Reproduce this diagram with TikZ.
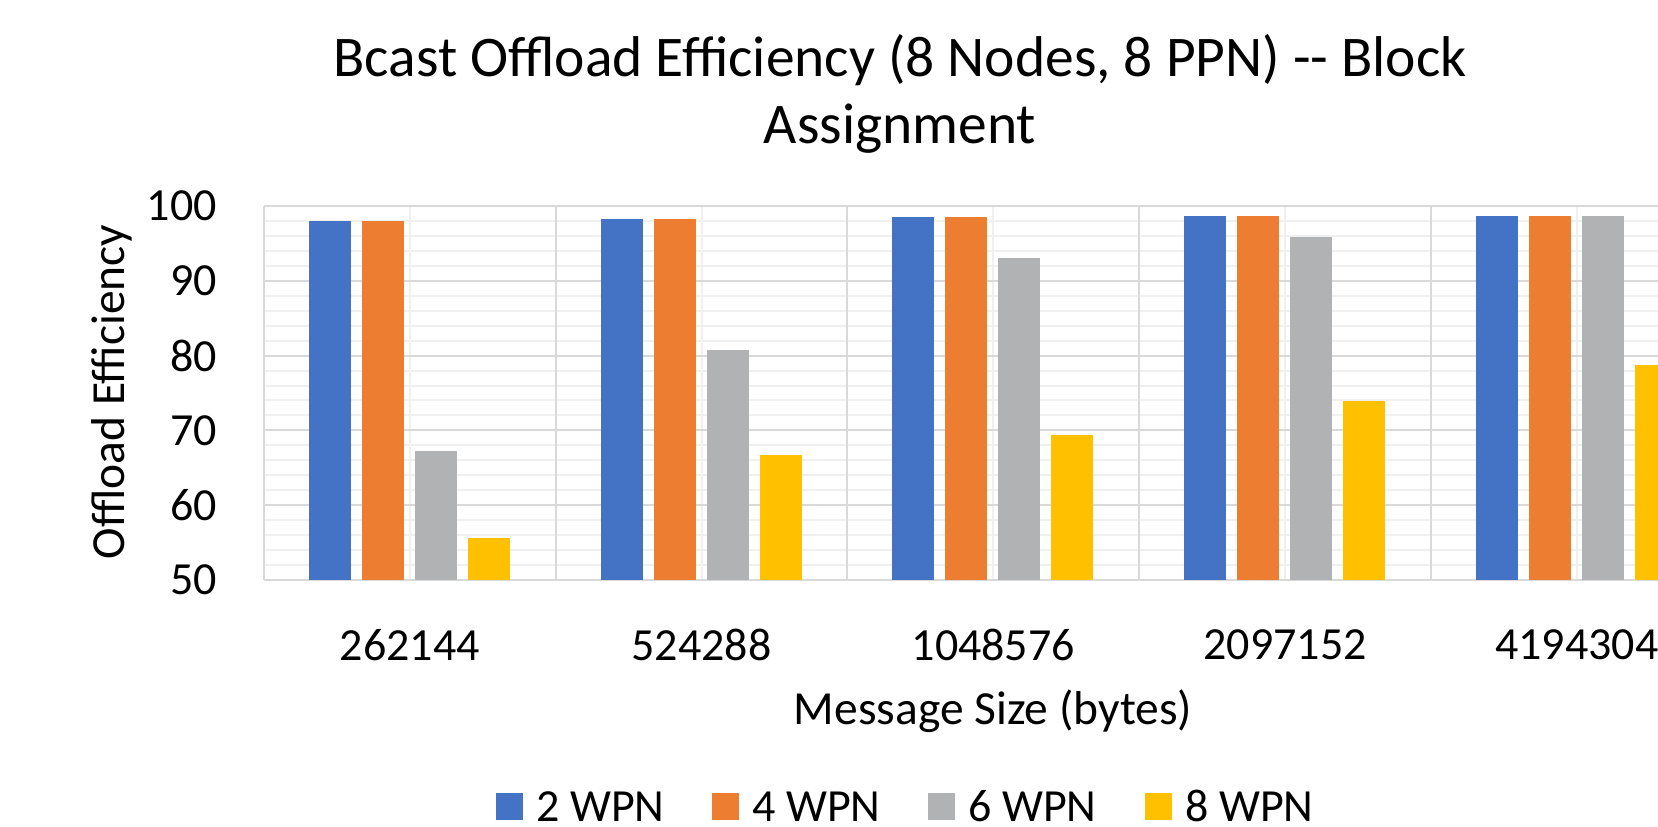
\documentclass[tikz,border=0pt]{standalone}
\usepackage{fontspec}
\setmainfont{Carlito}
\usetikzlibrary{positioning}
\definecolor{wpntwo}{HTML}{4472C4}
\definecolor{wpnfour}{HTML}{ED7D31}
\definecolor{wpnsix}{HTML}{B1B2B4}
\definecolor{wpneight}{HTML}{FFC000}
\definecolor{gridmajor}{HTML}{D9D9D9}
\definecolor{gridminor}{HTML}{F0F0F0}
\tikzstyle{majorgrid} = [draw=gridmajor, line width=2pt]
\tikzstyle{minorgrid} = [draw=gridminor, line width=2pt]
\tikzstyle{ticklabel} = [font=\fontsize{46}{55}\selectfont, inner sep=0pt]
\tikzstyle{axistitle} = [font=\fontsize{47.5}{57}\selectfont, inner sep=0pt]
\tikzstyle{legendbox} = [rectangle, minimum size=27pt, inner sep=0pt]
\tikzstyle{legendtext} = [font=\fontsize{46}{55}\selectfont, inner sep=0pt, text height=30pt, text depth=0pt, anchor=west]

\begin{document}
\begin{tikzpicture}[x=1pt, y=-1pt]
\useasboundingbox (0,0) rectangle (1658,827);
\clip (0,0) rectangle (1658,827);
% grid
\foreach \v in {52,54,56,58,62,64,66,68,72,74,76,78,82,84,86,88,92,94,96,98}
  \draw [minorgrid] (264,{580-(\v-50)*7.48}) -- (1800,{580-(\v-50)*7.48});
\foreach \k in {0,...,4}
  \draw [minorgrid] ({264+291.7*\k+145.85},206) -- ({264+291.7*\k+145.85},580);
\foreach \v in {60,70,80,90,100}
  \draw [majorgrid] (264,{580-(\v-50)*7.48}) -- (1800,{580-(\v-50)*7.48});
\foreach \k in {0,...,5}
  \draw [majorgrid] ({264+291.7*\k},206) -- ({264+291.7*\k},580);
\draw [majorgrid] (264,580) -- (1800,580);
% bars
\foreach \k/\a/\b/\c/\d in {0/98.0/98.0/67.2/55.6, 1/98.3/98.3/80.8/66.7,
    2/98.5/98.5/93.0/69.4, 3/98.6/98.6/95.9/73.9, 4/98.7/98.7/98.7/78.7} {
  \fill [wpntwo] ({309+291.7*\k},580) rectangle ++(42,{-(\a-50)*7.48});
  \fill [wpnfour] ({362+291.7*\k},580) rectangle ++(42,{-(\b-50)*7.48});
  \fill [wpnsix] ({415+291.7*\k},580) rectangle ++(42,{-(\c-50)*7.48});
  \fill [wpneight] ({468+291.7*\k},580) rectangle ++(42,{-(\d-50)*7.48});
}
% axis labels
\foreach \v in {50,60,...,100}
  \node (y\v) [ticklabel, anchor=east] at (217,{580-(\v-50)*7.48}) {\v};
\node (x1) [ticklabel] at (409.9,645) {262144};
\node (x2) [ticklabel] at (701.6,645) {524288};
\node (x3) [ticklabel] at (993.3,645) {1048576};
\node (x4) [ticklabel] at (1285,645) {2097152};
\node (x5) [ticklabel] at (1576.7,645) {4194304};
\node (xtitle) [axistitle] at (993,711) {Message Size (bytes)};
\node (ytitle) [axistitle, rotate=90] at (112,392) {Offload Efficiency};
\node (title) [font=\fontsize{57.5}{67}\selectfont, align=center, inner sep=0pt] at (900,94)
  {Bcast Offload Efficiency (8 Nodes, 8 PPN) -{}- Block\\Assignment};
% legend
\node (leg2) [legendbox, fill=wpntwo] at (509.5,806) {};
\node (leg2txt) [legendtext, right=13pt of leg2] {2 WPN};
\node (leg4) [legendbox, fill=wpnfour] at (725.5,806) {};
\node (leg4txt) [legendtext, right=13pt of leg4] {4 WPN};
\node (leg6) [legendbox, fill=wpnsix] at (941.5,806) {};
\node (leg6txt) [legendtext, right=13pt of leg6] {6 WPN};
\node (leg8) [legendbox, fill=wpneight] at (1158.5,806) {};
\node (leg8txt) [legendtext, right=13pt of leg8] {8 WPN};

\end{tikzpicture}
\end{document}
